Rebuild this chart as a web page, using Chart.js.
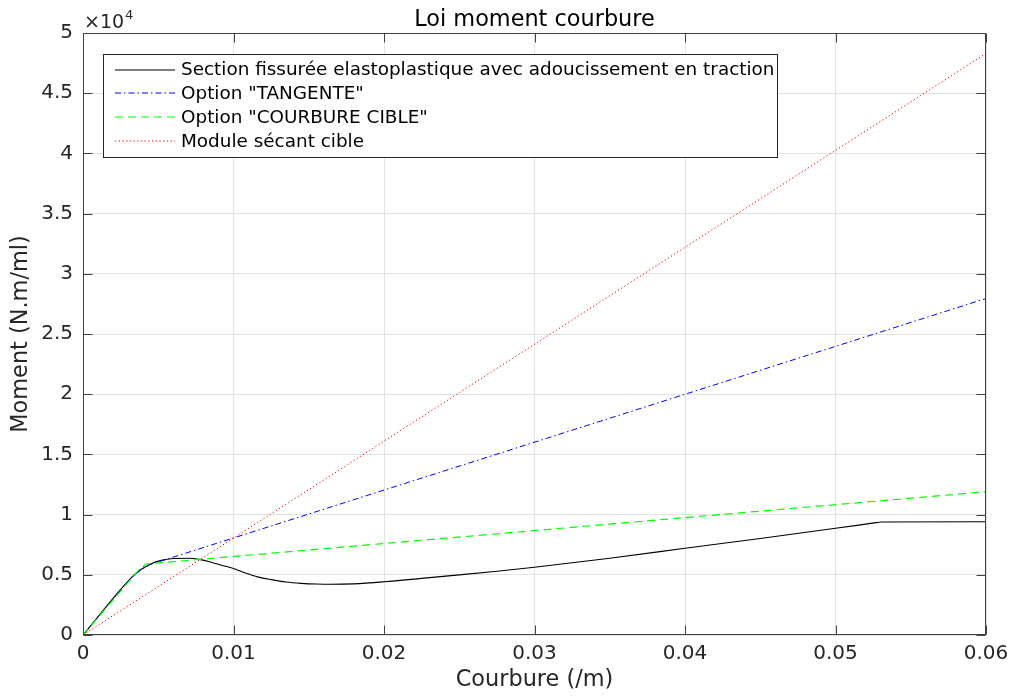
<!DOCTYPE html>
<html><head><meta charset="utf-8">
<script src="https://cdn.jsdelivr.net/npm/chart.js@4.4.1/dist/chart.umd.min.js"></script>
<style>html,body{margin:0;padding:0;background:#fff;} #wrap{width:1013px;height:700px;position:relative;}</style>
</head><body><div id="wrap"><canvas id="c" width="1013" height="700"></canvas></div>
<script>
const chartTitle = 'Loi moment courbure';
const xAxisTitle = 'Courbure (/m)';
const yAxisTitle = 'Moment (N.m/ml)';
const yExponentBase = '\u00d710';
const yExponent = '4';
const seriesNames = [
  'Section fissurée elastoplastique avec adoucissement en traction',
  'Option "TANGENTE"',
  'Option "COURBURE CIBLE"',
  'Module sécant cible'
];
const xTickLabels = ['0','0.01','0.02','0.03','0.04','0.05','0.06'];
const yTickLabels = ['0','0.5','1','1.5','2','2.5','3','3.5','4','4.5','5'];

// Section fissurée (black)
const sectionCurv = [0,0.0032,0.0038,0.0045,0.0052,0.006,0.007,0.0078,0.0085,0.0092,0.01,0.0108,0.0116,0.0125,0.0135,0.0145,0.0155,0.0165,0.018,0.02,0.0225,0.025,0.0275,0.03,0.035,0.04,0.045,0.05,0.0527,0.053,0.06];
const sectionMoment = [0,4750,5400,5900,6200,6350,6380,6260,6050,5800,5520,5150,4830,4600,4400,4290,4230,4210,4250,4420,4700,4990,5300,5630,6380,7200,8020,8860,9330,9380,9400];
// Option TANGENTE (blue)
const tangenteCurv = [0,0.0032,0.0039,0.0045,0.06];
const tangenteMoment = [0,4750,5450,5870,27950];
// Option COURBURE CIBLE (green)
const cibleCurv = [0,0.0038,0.0042,0.06];
const cibleMoment = [0,5540,5900,11900];
// Module sécant cible (red)
const secantCurv = [0,0.06];
const secantMoment = [0,48300];

const zip = (xs, ys) => xs.map((x, i) => ({x: x, y: ys[i]}));

const styles = [
  {color:'#000000', dash:[], width:1.1},
  {color:'#0000ff', dash:[6,3,1.5,3], width:1},
  {color:'#00ff00', dash:[8,5], width:1.2},
  {color:'#ff0000', dash:[1.3,2.4], width:1}
];
const seriesData = [
  zip(sectionCurv, sectionMoment),
  zip(tangenteCurv, tangenteMoment),
  zip(cibleCurv, cibleMoment),
  zip(secantCurv, secantMoment)
];

const datasets = seriesData.map((d, i) => ({
  label: seriesNames[i],
  data: d,
  borderColor: styles[i].color,
  borderWidth: styles[i].width,
  borderDash: styles[i].dash,
  pointRadius: 0,
  fill: false,
  tension: 0,
  cubicInterpolationMode: i === 0 ? 'monotone' : 'default',
  order: 3 - i
}));

Chart.defaults.font.family = "'DejaVu Sans', sans-serif";

const overlay = {
  id: 'overlay',
  afterDraw(chart) {
    const ctx = chart.ctx, a = chart.chartArea, xs = chart.scales.x, ys = chart.scales.y;
    ctx.save();
    const L = Math.round(a.left) + 0.5, R = Math.round(a.right) - 0.5;
    const T = Math.round(a.top) + 0.5, B = Math.round(a.bottom) - 0.5;
    ctx.strokeStyle = '#404040';
    ctx.lineWidth = 1;
    ctx.setLineDash([]);
    ctx.strokeRect(L, T, R - L, B - T);
    ctx.beginPath();
    const tl = 9;
    xs.ticks.forEach(t => {
      const px = Math.round(xs.getPixelForValue(t.value)) + 0.5;
      ctx.moveTo(px, B); ctx.lineTo(px, B - tl);
      ctx.moveTo(px, T); ctx.lineTo(px, T + tl);
    });
    ys.ticks.forEach(t => {
      const py = Math.round(ys.getPixelForValue(t.value)) + 0.5;
      ctx.moveTo(L, py); ctx.lineTo(L + tl, py);
      ctx.moveTo(R, py); ctx.lineTo(R - tl, py);
    });
    ctx.stroke();

    ctx.fillStyle = '#000';
    ctx.textAlign = 'center';
    ctx.textBaseline = 'alphabetic';
    ctx.font = "22.4px 'DejaVu Sans'";
    ctx.fillText(chartTitle, (a.left + a.right) / 2, 26);
    ctx.fillStyle = '#262626';
    ctx.font = "22.4px 'DejaVu Sans'";
    ctx.fillText(xAxisTitle, (a.left + a.right) / 2, 686);
    ctx.save();
    ctx.translate(27, (a.top + a.bottom) / 2);
    ctx.rotate(-Math.PI / 2);
    ctx.fillText(yAxisTitle, 0, 0);
    ctx.restore();
    ctx.textAlign = 'left';
    ctx.font = "19px 'DejaVu Sans'";
    ctx.fillText(yExponentBase, 84, 28);
    const w = ctx.measureText(yExponentBase).width;
    ctx.font = "13px 'DejaVu Sans'";
    ctx.fillText(yExponent, 84 + w + 1, 19);

    const bx = 103.5, by = 54.5, bw = 674, bh = 103;
    ctx.fillStyle = '#fff';
    ctx.fillRect(bx, by, bw, bh);
    ctx.strokeStyle = '#262626';
    ctx.lineWidth = 1;
    ctx.strokeRect(bx, by, bw, bh);
    ctx.font = "18.4px 'DejaVu Sans'";
    ctx.textBaseline = 'middle';
    seriesNames.forEach((name, i) => {
      const yy = 69.5 + i * 23.8;
      ctx.beginPath();
      ctx.strokeStyle = styles[i].color;
      ctx.lineWidth = styles[i].width;
      ctx.setLineDash(styles[i].dash);
      ctx.moveTo(115, Math.round(yy));
      ctx.lineTo(175, Math.round(yy));
      ctx.stroke();
      ctx.setLineDash([]);
      ctx.fillStyle = '#000';
      ctx.fillText(name, 181, yy + 1);
    });
    ctx.restore();
  }
};

new Chart(document.getElementById('c'), {
  type: 'line',
  data: { datasets: datasets },
  options: {
    responsive: false,
    animation: false,
    devicePixelRatio: 1,
    layout: { autoPadding: false, padding: { top: 33, right: 27, left: 0, bottom: 0 } },
    plugins: { legend: { display: false }, title: { display: false }, tooltip: { enabled: false } },
    scales: {
      x: {
        type: 'linear',
        min: 0, max: 0.06,
        ticks: {
          stepSize: 0.01,
          color: '#262626',
          font: { size: 20 },
          padding: 7,
          maxRotation: 0,
          callback: (v, i) => xTickLabels[i]
        },
        grid: { color: '#e2e2e2', drawTicks: false, lineWidth: 1 },
        border: { display: false },
        afterFit: s => { s.height = 65; s.paddingLeft = 0; s.paddingRight = 0; }
      },
      y: {
        type: 'linear',
        min: 0, max: 50000,
        ticks: {
          stepSize: 5000,
          color: '#262626',
          font: { size: 20 },
          padding: 10,
          callback: (v, i) => yTickLabels[i]
        },
        grid: { color: '#e2e2e2', drawTicks: false, lineWidth: 1 },
        border: { display: false },
        afterFit: s => { s.width = 83; s.paddingTop = 0; s.paddingBottom = 0; }
      }
    }
  },
  plugins: [overlay]
});
</script>
</body></html>
